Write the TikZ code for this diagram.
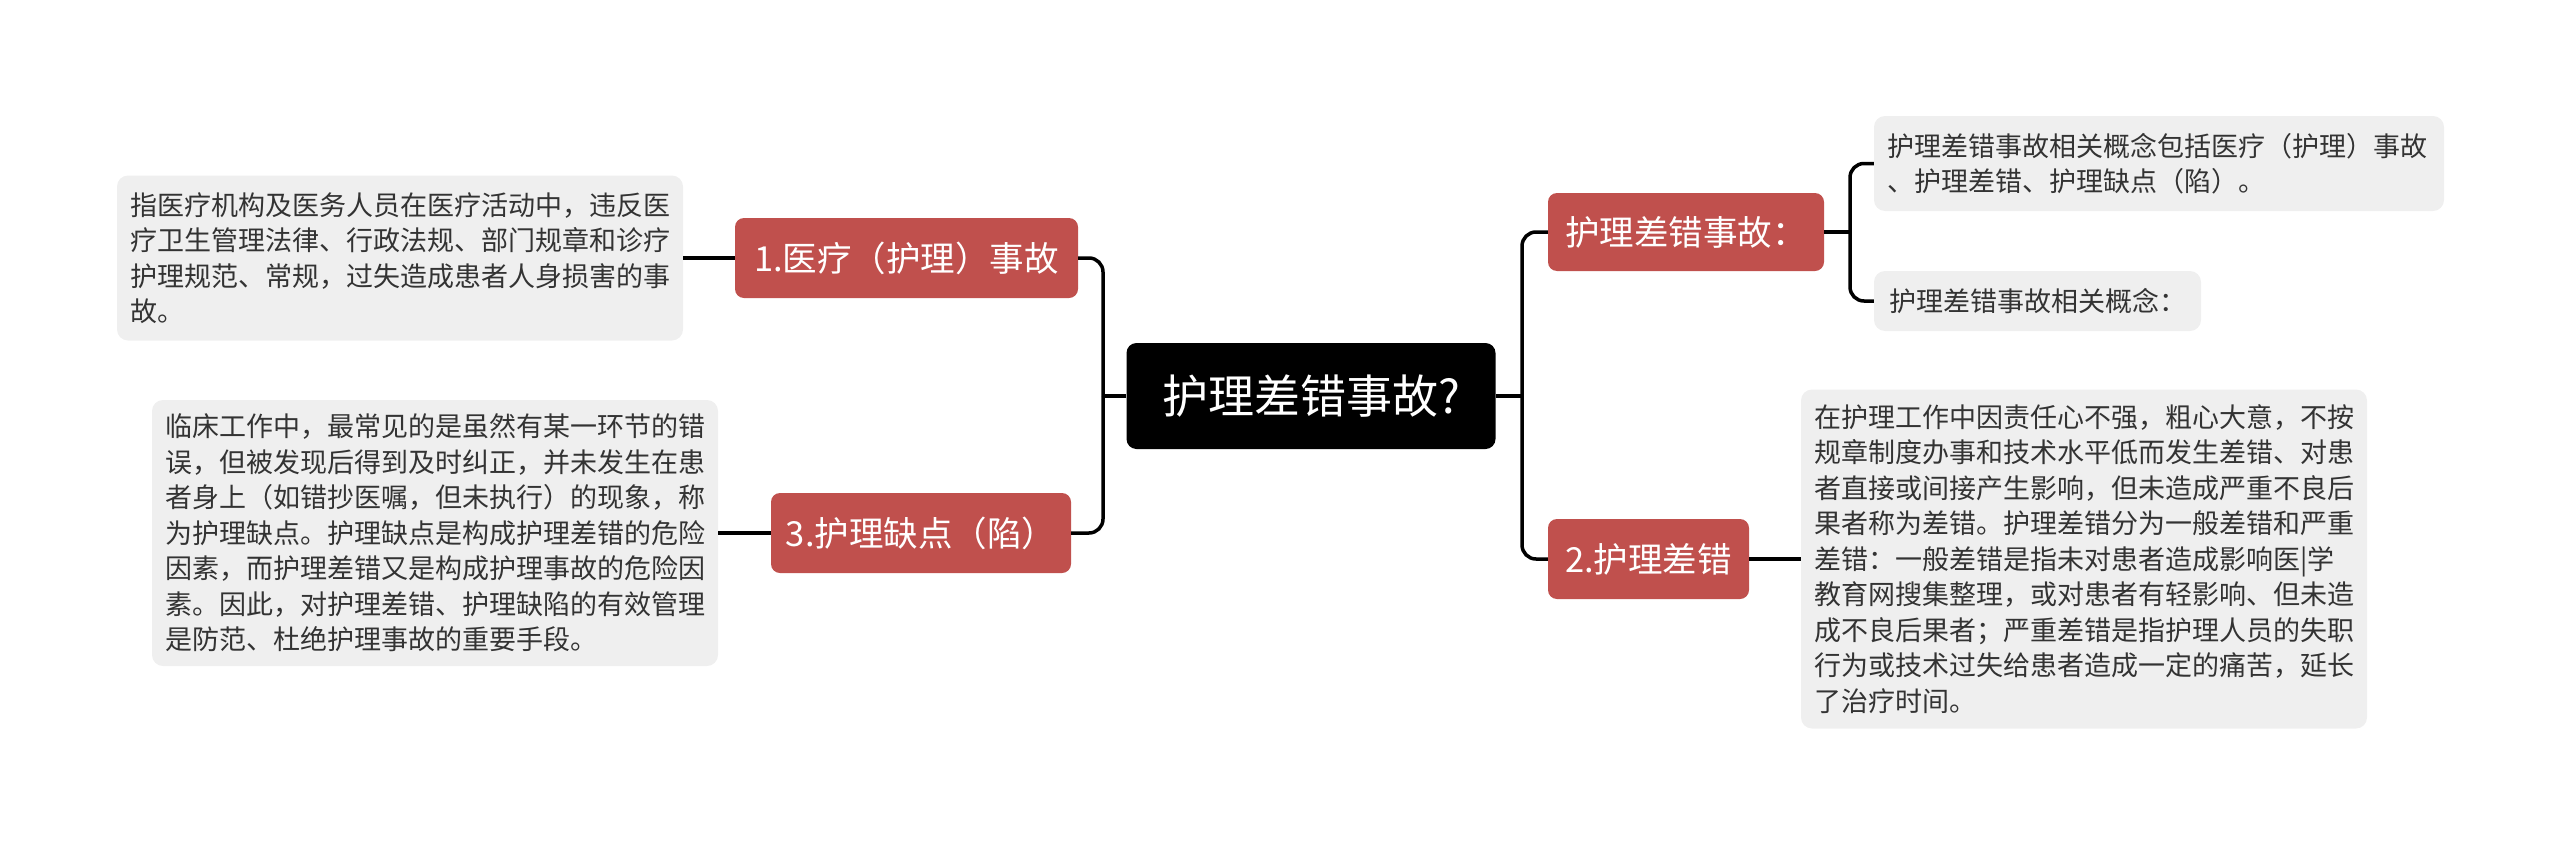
\documentclass[tikz,border=0pt]{standalone}
\usepackage{fontspec}
\setmainfont{Noto Sans CJK SC}
\definecolor{redbox}{HTML}{C0504D}
\definecolor{graybox}{HTML}{EFEFEF}
\definecolor{graytext}{HTML}{333333}
\begin{document}
\begin{tikzpicture}[x=1pt,y=-1pt,
  conn/.style={line width=3.5pt,black},
  rconn/.style={line width=3.5pt,black,rounded corners=14pt},
  rootbox/.style={fill=black,text=white,rounded corners=10pt,inner sep=0pt,
    minimum width=369pt,minimum height=106pt,font=\fontsize{46}{54}\selectfont},
  topic/.style={fill=redbox,text=white,rounded corners=9pt,inner sep=0pt,
    minimum height=80pt,font=\fontsize{34.5}{42}\selectfont},
  note/.style={fill=graybox,text=graytext,rounded corners=11pt,inner xsep=13pt,inner ysep=0pt,
    align=left,font=\fontsize{27}{35.5}\selectfont},
  wide/.style={note,text width=540pt}
]
\useasboundingbox (0,0) rectangle (2560,846);
% root
\node[rootbox] (c) at (1311,396) {护理差错事故?\hspace{14pt}};
% left topics
\node[topic,minimum width=343pt] (n1) at (906.5,258) {1.医疗（护理）事故};
\node[topic,minimum width=300pt] (n3) at (921,533) {3.护理缺点（陷）};
% right topics
\node[topic,minimum width=276pt,minimum height=78pt] (r1) at (1686,232) {护理差错事故：};
\node[topic,minimum width=201pt] (r2) at (1648.5,559) {2.护理差错};
% notes
\node[wide,minimum height=165pt] (b1) at (400,258) {指医疗机构及医务人员在医疗活动中，违反医\\疗卫生管理法律、行政法规、部门规章和诊疗\\护理规范、常规，过失造成患者人身损害的事\\故。};
\node[wide,minimum height=266pt] (b3) at (435,533) {临床工作中，最常见的是虽然有某一环节的错\\误，但被发现后得到及时纠正，并未发生在患\\者身上（如错抄医嘱，但未执行）的现象，称\\为护理缺点。护理缺点是构成护理差错的危险\\因素，而护理差错又是构成护理事故的危险因\\素。因此，对护理差错、护理缺陷的有效管理\\是防范、杜绝护理事故的重要手段。};
\node[wide,text width=544pt,minimum height=95pt] (g1) at (2159,163.5) {护理差错事故相关概念包括医疗（护理）事故\\、护理差错、护理缺点（陷）。};
\node[note,minimum width=327pt,minimum height=60pt] (g2) at (2037.5,301) {护理差错事故相关概念：};
\node[wide,minimum height=339pt] (b2) at (2084,559) {在护理工作中因责任心不强，粗心大意，不按\\规章制度办事和技术水平低而发生差错、对患\\者直接或间接产生影响，但未造成严重不良后\\果者称为差错。护理差错分为一般差错和严重\\差错：一般差错是指未对患者造成影响医|学\\教育网搜集整理，或对患者有轻影响、但未造\\成不良后果者；严重差错是指护理人员的失职\\行为或技术过失给患者造成一定的痛苦，延长\\了治疗时间。};
% trunks
\coordinate (lt) at (1103,396);
\coordinate (rt) at (1522,396);
\coordinate (rt2) at (1850,232);
\draw[conn] (c.west) -- (lt);
\draw[rconn] (lt) |- (n1.east);
\draw[rconn] (lt) |- (n3.east);
\draw[conn] (c.east) -- (rt);
\draw[rconn] (rt) |- (r1.west);
\draw[rconn] (rt) |- (r2.west);
\draw[conn] (r1.east) -- (rt2);
\draw[rconn] (rt2) |- (g1.west);
\draw[rconn] (rt2) |- (g2.west);
\draw[conn] (n1.west) -- (b1.east);
\draw[conn] (n3.west) -- (b3.east);
\draw[conn] (r2.east) -- (b2.west);
\end{tikzpicture}
\end{document}
